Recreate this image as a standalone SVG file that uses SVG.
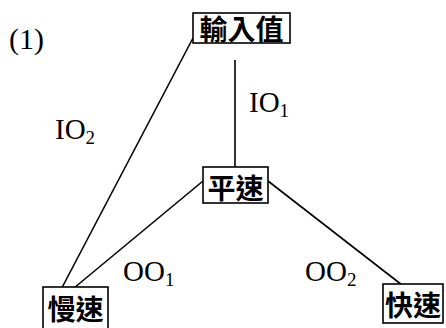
<svg xmlns="http://www.w3.org/2000/svg" width="446" height="328" viewBox="0 0 446 328">
<style>
.box{fill:#fff;stroke:#000;stroke-width:1.6}
.cjk{font-family:"Noto Sans CJK TC","Noto Sans CJK SC",sans-serif;font-size:28px;font-weight:bold;text-anchor:middle;dominant-baseline:central;fill:#000}
.lbl{font-family:"Liberation Serif",serif;font-size:29px;fill:#000}
.sub{font-size:19px}
.ln{stroke:#000;stroke-width:1.6;fill:none}
</style>
<rect width="446" height="328" fill="#fff"/>
<text class="lbl" x="9" y="49" style="font-size:30px">(1)</text>
<g id="connectors">
<line class="ln" x1="235" y1="60" x2="235" y2="167"/>
<line class="ln" x1="193" y1="38" x2="45" y2="320"/>
<line class="ln" x1="203" y1="181" x2="74" y2="288"/>
<line class="ln" x1="268" y1="181" x2="402" y2="285"/>
<text class="lbl" x="249" y="112">IO<tspan class="sub" dy="5">1</tspan></text>
<text class="lbl" x="55" y="139">IO<tspan class="sub" dy="5">2</tspan></text>
<text class="lbl" x="123" y="281">OO<tspan class="sub" dy="5">1</tspan></text>
<text class="lbl" x="305" y="281">OO<tspan class="sub" dy="5">2</tspan></text>
</g>
<g id="input">
<rect class="box" x="193" y="13" width="97" height="30"/>
<text class="cjk" x="241.5" y="28">輸入值</text>
</g>
<g id="medium">
<rect class="box" x="203" y="167" width="65" height="36"/>
<text class="cjk" x="235.5" y="187">平速</text>
</g>
<g id="slow">
<rect class="box" x="43" y="287" width="65" height="45"/>
<text class="cjk" x="75.5" y="308">慢速</text>
</g>
<g id="fast">
<rect class="box" x="383" y="284" width="60" height="39"/>
<text class="cjk" x="413" y="304">快速</text>
</g>
</svg>
